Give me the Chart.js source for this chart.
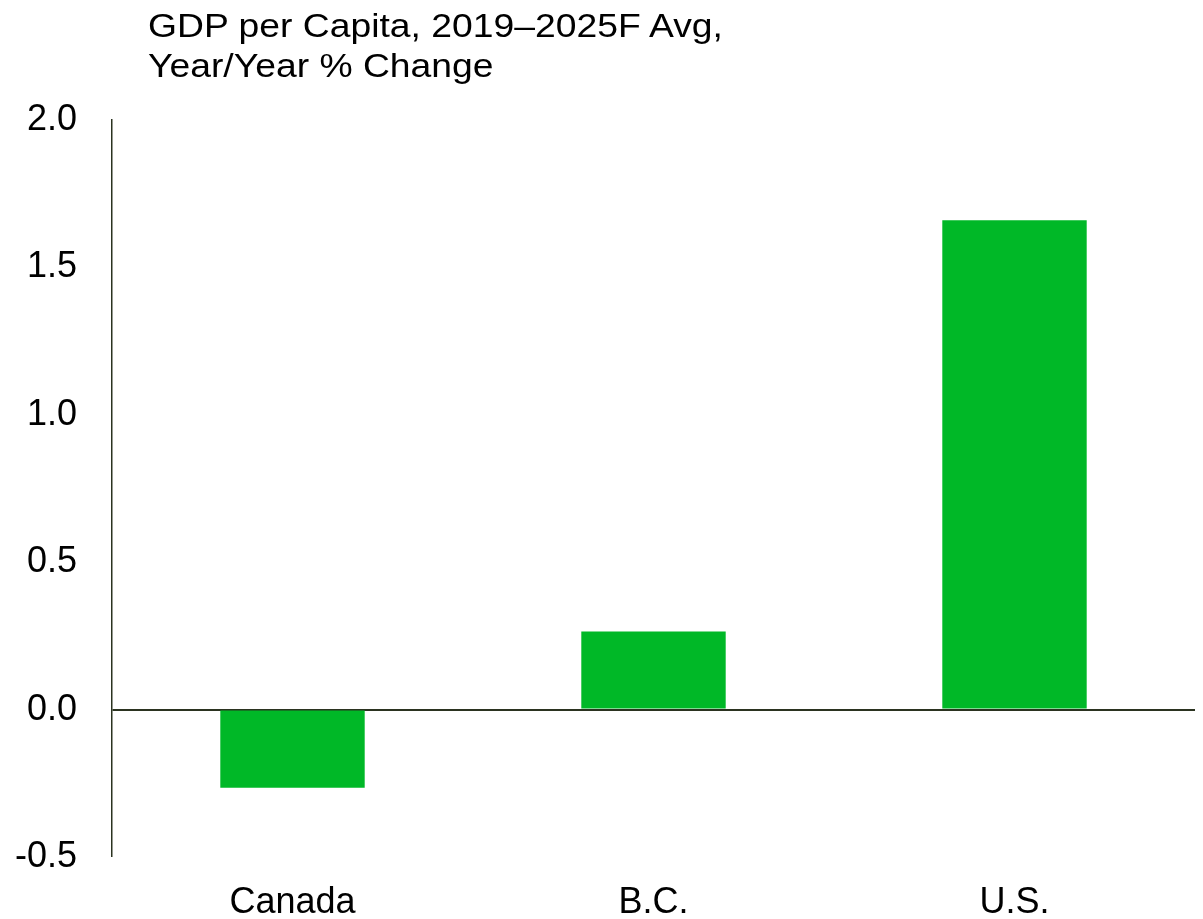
<!DOCTYPE html>
<html>
<head>
<meta charset="utf-8">
<script src="https://cdn.jsdelivr.net/npm/chart.js@4"></script>
<style>
  html, body { margin: 0; padding: 0; background: #fff; }
  #wrap { position: relative; width: 1203px; height: 919px; }
  #title {
    position: absolute; left: 148px; top: 6px;
    font: 33px "Liberation Sans", Arial, sans-serif;
    line-height: 40px; color: #000;
    transform: scaleX(1.13); transform-origin: left top;
    white-space: nowrap;
  }
</style>
</head>
<body>
<div id="wrap">
  <canvas id="gdp-chart" width="1203" height="919"></canvas>
  <div id="title">GDP per Capita, 2019–2025F Avg,<br>Year/Year % Change</div>
</div>
<script>
const REGIONS    = ['Canada', 'B.C.', 'U.S.'];
const GDP_CHANGE = [-0.265, 0.265, 1.66];
const Y_TICKS    = [-0.5, 0.0, 0.5, 1.0, 1.5, 2.0];

const BAR_GREEN = '#00B827';
const AXIS_DARK = '#2b3320';
const FONT      = { family: '"Liberation Sans", Arial, sans-serif', size: 36, lineHeight: 1 };

const ctx = document.getElementById('gdp-chart');
new Chart(ctx, {
  type: 'bar',
  data: {
    labels: REGIONS,
    datasets: [{
      data: GDP_CHANGE,
      backgroundColor: BAR_GREEN,
      borderWidth: 0,
      categoryPercentage: 0.8,
      barPercentage: 0.5,
    }],
  },
  options: {
    responsive: false,
    animation: false,
    layout: { padding: { top: 120, left: 15, right: 8, bottom: 0 } },
    plugins: {
      legend:  { display: false },
      tooltip: { enabled: false },
    },
    scales: {
      x: {
        grid:   { display: false },
        border: { display: false },
        ticks:  { color: '#000', font: FONT, padding: 20 },
        afterFit: axis => { axis.height = 62; },
      },
      y: {
        min: Y_TICKS[0],
        max: Y_TICKS[Y_TICKS.length - 1],
        afterBuildTicks: axis => { axis.ticks = Y_TICKS.map(v => ({ value: v })); },
        afterFit: axis => { axis.width = 97; },
        grid: {
          drawTicks: false,
          // only the zero line is drawn across the plot
          color: c => c.tick && c.tick.value === 0 ? AXIS_DARK : 'rgba(0,0,0,0)',
          lineWidth: c => c.tick && c.tick.value === 0 ? 2 : 0,
        },
        border: { display: true, color: AXIS_DARK, width: 1.5 },
        ticks: {
          color: '#000',
          font: FONT,
          padding: 35,
          callback: v => Number(v).toFixed(1),
        },
      },
    },
  },
});
</script>
</body>
</html>
